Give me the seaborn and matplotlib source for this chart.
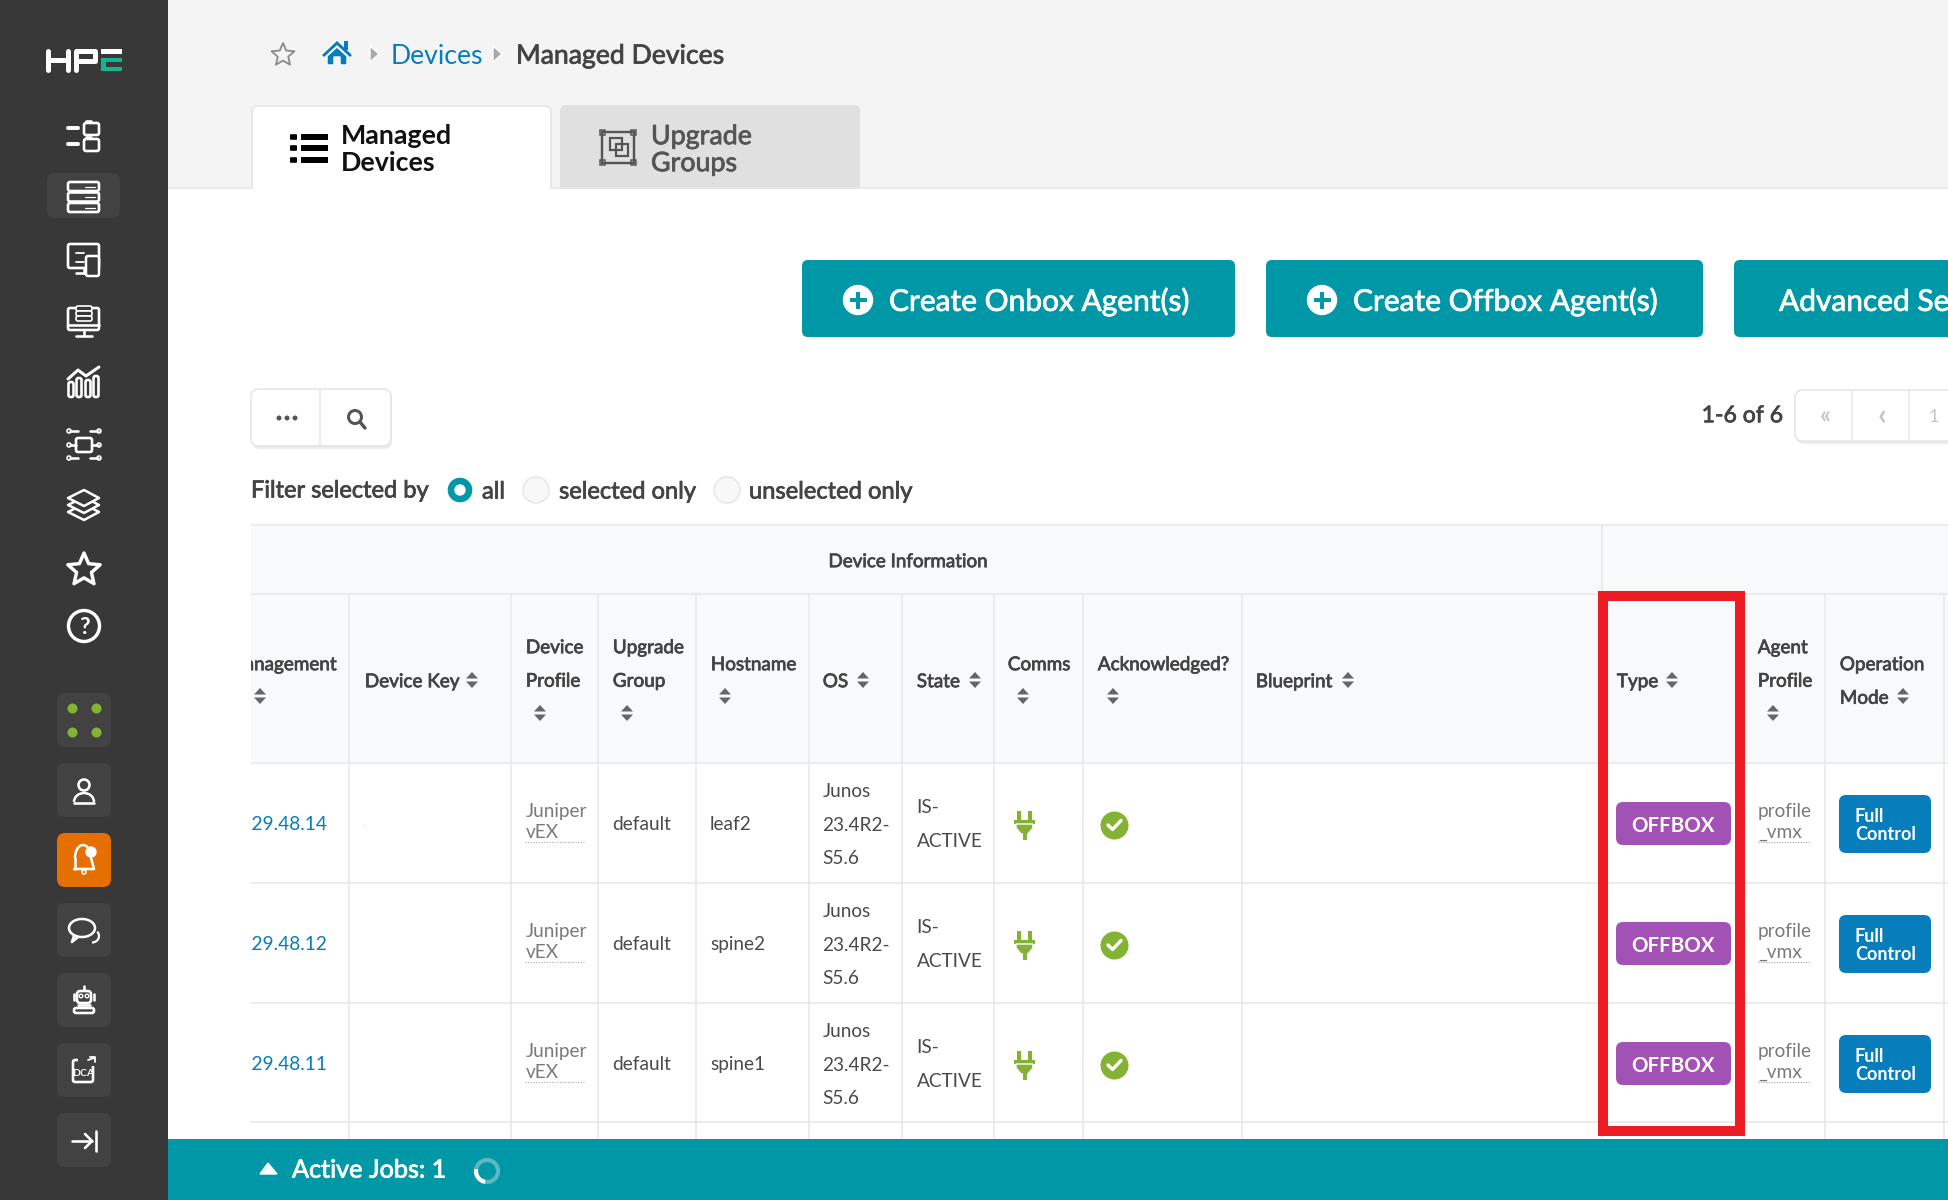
import numpy as np
import pandas as pd
import matplotlib
matplotlib.use("Agg")
import matplotlib.pyplot as plt
import matplotlib.patheffects as pe
import seaborn as sns
from matplotlib.patches import FancyBboxPatch, Rectangle, Polygon, Circle, Arc

# table content
HEADERS = [
    (["Device", "Profile"], 525, 646, (540, 713)),
    (["Upgrade", "Group"], 612, 646, (627, 713)),
    (["Device Key"], 364, 680, (472, 680)),
    (["Hostname"], 710, 663, (725, 696)),
    (["OS"], 822, 680, (863, 680)),
    (["State"], 916, 680, (975, 680)),
    (["Comms"], 1007, 663, (1023, 696)),
    (["Acknowledged?"], 1097, 663, (1113, 696)),
    (["Blueprint"], 1255, 680, (1348, 680)),
    (["Type"], 1616, 680, (1672, 680)),
    (["Agent", "Profile"], 1757, 646, (1773, 713)),
    (["Operation", "Mode"], 1839, 663, (1903, 696)),
]
IPS = [".29.48.14", ".29.48.12", ".29.48.11"]
HOSTNAMES = ["leaf2", "spine2", "spine1"]
PROFILE = ["Juniper", "vEX"]
GROUP = "default"
OS_NAME = ["Junos", "23.4R2-", "S5.6"]
STATE = ["IS-", "ACTIVE"]
AGENT_TYPE = "OFFBOX"
AGENT_PROFILE = ["profile", "_vmx"]
MODE = ["Full", "Control"]
ROW_TOPS = [763, 883, 1003, 1122]
COL_LINES = [349, 511, 598, 696, 809, 902, 994, 1083, 1242, 1602, 1744, 1825, 1944]
SIDE_BOXES = [693, 763, 833, 903, 973, 1043, 1113]

TEAL = "#0097a7"
BLUE = "#077dbb"
GREEN = "#83b235"
DARK = "#444444"
BODY = "#4a4a4a"
GREY = "#7a7a7a"
LINE = "#e7e8ea"

sns.set_theme(style="white")
plt.rcParams["font.family"] = ["Lato", "DejaVu Sans"]

fig = plt.figure(figsize=(19.48, 12), dpi=100)
ax = fig.add_axes([0, 0, 1, 1])
ax.set_xlim(0, 1948)
ax.set_ylim(1200, 0)
ax.axis("off")


def t(x, y, s, px=18.5, color=BODY, weight="normal", ha="left", clip=None, z=5):
    # no semibold cut of Lato here, so thicken the regular one
    real_weight = "normal" if weight == "semibold" else weight
    txt = ax.text(x, y + 0.38 * px, s, fontsize=px * 0.72, color=color, weight=real_weight,
                  ha=ha, va="baseline", zorder=z)
    if weight == "semibold":
        txt.set_path_effects([pe.withStroke(linewidth=0.55, foreground=color)])
    if clip is not None:
        txt.set_clip_on(True)
        txt.set_clip_path(clip)
    return txt


def box(x0, y0, x1, y1, fc, r=0, ec="none", lw=0, z=2):
    if r:
        p = FancyBboxPatch((x0, y0), x1 - x0, y1 - y0, boxstyle=f"round,pad=0,rounding_size={r}",
                           fc=fc, ec=ec, lw=lw, zorder=z)
    else:
        p = Rectangle((x0, y0), x1 - x0, y1 - y0, fc=fc, ec=ec, lw=lw, zorder=z)
    ax.add_patch(p)
    return p


def line(xs, ys, c="white", w=2.6, z=6, **kw):
    ax.plot(xs, ys, color=c, lw=w * 0.72, zorder=z, solid_capstyle="round", **kw)


def ring(x, y, r, c="white", w=2.6, fc="none", z=6):
    ax.add_patch(Circle((x, y), r, fc=fc, ec=c, lw=w * 0.72, zorder=z))


def outline(x0, y0, x1, y1, r=2, c="white", w=2.6, z=6):
    box(x0, y0, x1, y1, "none", r=r, ec=c, lw=w * 0.72, z=z)


def star(x, y, r, ec, w=2.2, z=6):
    a = np.arange(10) * np.pi / 5 - np.pi / 2
    rr = np.where(np.arange(10) % 2 == 0, r, r * 0.46)
    ax.add_patch(Polygon(np.c_[x + rr * np.cos(a), y + rr * np.sin(a)], fc="none", ec=ec,
                         lw=w * 0.72, zorder=z, joinstyle="round"))


def sort_arrows(x, y):
    for sgn in (-1, 1):
        ax.add_patch(Polygon([(x - 6, y + sgn * 1.5), (x + 6, y + sgn * 1.5), (x, y + sgn * 8)],
                             fc="#666666", ec="none", zorder=5))


# page backgrounds
box(0, 0, 1948, 1200, "white", z=0)
box(168, 0, 1948, 188, "#f4f4f4", z=1)
box(0, 0, 168, 1200, "#383838", z=3)

# sidebar logo
line([48, 48], [51, 70], w=5)
line([68, 68], [51, 70], w=5)
line([48, 68], [60, 60], w=5)
line([76, 76, 95, 95, 76], [70, 51, 51, 61, 61], w=5)
box(101, 49, 122, 53.5, "white", z=6)
box(101, 57.5, 122, 62, "#16b48d", z=6)
box(101, 66.5, 122, 71, "#16b48d", z=6)
box(101, 57.5, 106, 71, "#16b48d", z=6)

# sidebar icons
box(47, 173, 120, 218, "#424242", r=8, z=4)
for y0 in (123, 139):
    outline(84, y0, 99, y0 + 12, 2)
    line([86, 91], [y0 - 2, y0 - 2])
    line([68, 78], [y0 + 5, y0 + 5], w=4)
for y0 in (182, 192.5, 203):
    outline(68, y0, 99, y0 + 9, 2)
    line([85, 95], [y0 + 4.5, y0 + 4.5], w=1.2)
outline(68, 244, 99, 268, 2)
line([84, 84], [268, 273])
line([76, 88], [273, 273])
line([76, 84], [253, 253], w=1.8)
line([76, 84], [262, 262], w=1.8)
box(86, 256, 99, 276, "#383838", r=2, ec="white", lw=1.8, z=7)
outline(68, 308, 99, 330, 2)
line([68, 99], [325, 325])
line([84, 84], [330, 335])
line([76, 92], [336, 336])
for y0 in (306, 311, 316):
    box(76, y0, 92, y0 + 5, "#383838", r=2, ec="white", lw=1.2, z=7)
for xc, top in zip((71, 79, 88, 96), (382, 378, 380, 376)):
    outline(xc - 2.5, top, xc + 2.5, 397, 2)
line([68, 78, 86, 99], [379, 370, 376, 367], w=3)
outline(76, 438, 92, 452, 2)
for y_, xs_ in ((431, (70, 78)), (445, (70, 76)), (458, (70, 78)), (431, (90, 98)), (445, (92, 98)), (458, (90, 98))):
    line(list(xs_), [y_, y_])
for x_, y_ in ((69, 431), (69, 445), (69, 458), (99, 431), (99, 445), (99, 458)):
    ring(x_, y_, 2, w=1.6)
for yc in (498, 505, 512):
    ax.add_patch(Polygon([(68, yc), (84, yc - 8), (99, yc), (84, yc + 8)], fc="#383838",
                         ec="white", lw=1.8, zorder=6 + (520 - yc) / 100, joinstyle="round"))
star(84, 570, 17, "white", w=3.4)
ring(84, 626, 15.5, w=3.4)
t(84, 625, "?", 23, "white", "bold", ha="center", z=7)

for y0 in SIDE_BOXES:
    box(57, y0, 111, y0 + 54, "#e56f00" if y0 == 833 else "#424242", r=8, z=4)
side_dots = pd.DataFrame({"x": [72, 96, 72, 96], "y": [708, 708, 732, 732]})
sns.scatterplot(data=side_dots, x="x", y="y", s=52, color=GREEN, linewidth=0, ax=ax, zorder=6)
ring(84, 785, 5.5)
ax.add_patch(Arc((84, 802), 20, 18, theta1=180, theta2=360, color="white", lw=1.8, zorder=6))
line([74, 94], [803, 803])
ax.add_patch(Arc((83, 858), 16, 26, theta1=180, theta2=330, color="white", lw=1.8, zorder=6))
line([74, 94, 91], [869, 869, 858])
line([75, 75], [858, 869])
ring(84, 872, 2, w=1.6)
ax.add_patch(Circle((91, 852), 5, fc="white", zorder=7))
ax.add_patch(Arc((82, 928), 26, 18, color="white", lw=1.8, zorder=6))
line([74, 72, 78], [936, 942, 937])
ax.add_patch(Arc((92, 936), 14, 13, theta1=320, theta2=90, color="white", lw=1.6, zorder=6))
outline(77, 991, 91, 1003, 3)
ring(81, 996, 1.8, w=1.4)
ring(87, 996, 1.8, w=1.4)
line([84, 84], [986, 990])
line([74, 74], [994, 1000])
line([94, 94], [994, 1000])
outline(74, 1008, 94, 1013, 2)
line([78, 90], [1005, 1005])
outline(73, 1060, 93, 1082, 2)
box(78, 1058, 98, 1066, "#424242", z=7)
t(83, 1072, "DCA", 10.5, "white", "bold", ha="center", z=8)
line([88, 94], [1060, 1058], w=1.8, z=8)
line([90, 95, 95], [1057, 1057, 1062], w=1.8, z=8)
line([72, 92], [1141, 1141])
line([85, 92, 85], [1134, 1141, 1148])
line([96, 96], [1131, 1151])

# breadcrumb
star(283, 55, 12, "#8a8a8a", w=1.8)
ax.add_patch(Polygon([(321, 55), (337, 40), (353, 55), (350, 58), (337, 46), (324, 58)], fc=BLUE, zorder=5))
ax.add_patch(Polygon([(327, 56), (337, 47), (347, 56), (347, 65), (340, 65), (340, 57), (334, 57), (334, 65), (327, 65)], fc=BLUE, zorder=5))
box(344, 41, 348, 50, BLUE, z=5)
for xa in (370, 493):
    ax.add_patch(Polygon([(xa, 46), (xa + 9, 54), (xa, 62)], fc="#a8a8a8", zorder=5))
t(391, 53.5, "Devices", 26.6, BLUE)
t(516, 53.5, "Managed Devices", 26.6, DARK, "semibold")

# tabs
box(560, 105, 860, 195, "#e0e0e0", r=6, z=1.2)
box(252, 106, 551, 200, "white", r=6, ec="#e2e2e2", lw=1, z=1.2)
box(168, 189, 1948, 1200, "white", z=1.3)
line([168, 1948], [188, 188], LINE, 1.5, z=1.5)
box(253, 180, 550, 192, "white", z=1.6)
for y_ in (137, 148, 160):
    box(290, y_ - 2.8, 297, y_ + 2.8, "black", r=1, z=5)
    box(301, y_ - 2.8, 328, y_ + 2.8, "black", z=5)
t(341, 134, "Managed", 26.8, "#111111", "bold")
t(341, 161, "Devices", 26.8, "#111111", "bold")
outline(602, 132, 634, 163, 0, "#555555", 2.4, z=5)
outline(610, 138, 622, 150, 0, "#555555", 2.2, z=5)
outline(616, 144, 628, 156, 0, "#555555", 2.2, z=5)
outline(600, 130, 605, 135, 0, "#555555", 1.5, z=5)
outline(631, 130, 636, 135, 0, "#555555", 1.5, z=5)
outline(600, 160, 605, 165, 0, "#555555", 1.5, z=5)
outline(631, 160, 636, 165, 0, "#555555", 1.5, z=5)
t(651, 134, "Upgrade", 26.8, "#555555", "semibold")
t(651, 161, "Groups", 26.8, "#555555", "semibold")

# action buttons
for x0, x1 in ((802, 1235), (1266, 1703), (1734, 1960)):
    box(x0, 260, x1, 337, TEAL, r=6, z=3)
for xc in (858, 1322):
    ax.add_patch(Circle((xc, 300), 14.5, fc="white", zorder=5))
    box(xc - 8.5, 298, xc + 8.5, 302, TEAL, z=6)
    box(xc - 2, 291.5, xc + 2, 308.5, TEAL, z=6)
t(889, 299.5, "Create Onbox Agent(s)", 29.9, "white", "semibold")
t(1353, 299.5, "Create Offbox Agent(s)", 29.9, "white", "semibold")
t(1779, 299.5, "Advanced Search", 29.9, "white", "semibold")

# search pill and pager
box(252, 390, 392, 449, "#00000012", r=8, z=1.5)
box(251, 389, 391, 446, "white", r=8, ec="#e2e2e2", lw=1, z=2)
line([320, 320], [390, 445], LINE, 1.5, z=3)
for xd in (279, 287, 295):
    ax.add_patch(Circle((xd, 418), 3.2, fc="#555555", zorder=5))
ring(355, 417, 6.5, "#555555", 3)
line([360, 365], [422, 428], "#555555", 3.4)
t(1783, 413.5, "1-6 of 6", 23, DARK, "semibold", ha="right")
box(1796, 391, 1960, 444, "#00000012", r=8, z=1.5)
box(1795, 390, 1960, 441, "white", r=8, ec="#e2e2e2", lw=1, z=2)
for xd in (1852, 1909):
    line([xd, xd], [391, 440], LINE, 1.5, z=3)
t(1825, 414, "«", 24, "#c4c4c4", "bold", ha="center")
t(1882, 414, "‹", 30, "#c4c4c4", "bold", ha="center")
t(1934, 415, "1", 18, "#c4c4c4", ha="center")

# filter row
t(251, 488.5, "Filter selected by", 23.6, DARK, "semibold")
ax.add_patch(Circle((460, 490), 13, fc=TEAL, zorder=5))
ax.add_patch(Circle((460, 490), 5, fc="white", zorder=6))
t(482, 489.5, "all", 23.7, DARK, "semibold")
for xc, xt, label in ((536, 559, "selected only"), (727, 749, "unselected only")):
    ax.add_patch(Circle((xc, 490), 13, fc="#f8f8f8", ec="#e8e8e8", lw=1.2, zorder=5))
    t(xt, 489.5, label, 23.7, DARK, "semibold")

# table frame
box(251, 525, 1948, 763, "#f8f9fb", z=1.4)
for y_ in [525, 594] + ROW_TOPS:
    line([251, 1948], [y_, y_], LINE, 1.6, z=2)
for x_ in COL_LINES:
    line([x_, x_], [594, 1139], LINE, 1.6, z=2)
line([1602, 1602], [525, 594], LINE, 1.6, z=2)
t(908, 560, "Device Information", 18.8, DARK, "semibold", ha="center")

clip = Rectangle((251, 0), 1700, 1200, transform=ax.transData)
for lines_, x_, y_, arrow in HEADERS:
    for i, s in enumerate(lines_):
        t(x_ + 0.8, y_ + i * 33.5, s, 18.9, DARK, "semibold")
    sort_arrows(*arrow)
t(337, 663, "Management", 18.9, DARK, "semibold", ha="right", clip=clip)
sort_arrows(260, 696)

# table rows
for i in range(3):
    c = ROW_TOPS[i] + 60
    t(328, c, IPS[i], 19.1, BLUE, ha="right", clip=clip)
    for j, s in enumerate(PROFILE):
        t(525.5, c - 13 + j * 21, s, 19, GREY)
    line([525, 584], [c + 19, c + 19], "#9a9a9a", 1, z=4, linestyle=":")
    t(612, c, GROUP, 19, BODY)
    t(710, c, HOSTNAMES[i], 19, BODY)
    for j, s in enumerate(OS_NAME):
        t(822.5, c - 33 + j * 33.5, s, 19, BODY)
    for j, s in enumerate(STATE):
        t(916.5, c - 17 + j * 34, s, 19, BODY)
    # plug icon
    box(1017, c - 12, 1021, c - 3, GREEN, z=5)
    box(1028, c - 12, 1032, c - 3, GREEN, z=5)
    box(1014, c - 3, 1035, c + 1, GREEN, z=5)
    ax.add_patch(Polygon([(1016, c + 1), (1033, c + 1), (1033, c + 5), (1028, c + 11), (1021, c + 11), (1016, c + 5)], fc=GREEN, zorder=5))
    box(1022.5, c + 10, 1026.5, c + 17, GREEN, z=5)
    # acknowledged check
    line([1108, 1112.5, 1121], [c + 2, c + 6.5, c - 2.5], "white", 3.4, z=7)
    # type badge
    box(1616, c - 21, 1731, c + 22, "#a251b5", r=7, z=5)
    t(1673, c + 1, AGENT_TYPE, 20.5, "white", "bold", ha="center", z=6)
    for j, s in enumerate(AGENT_PROFILE):
        t(1758, c - 13 + j * 21, s, 19, GREY)
    line([1758, 1811], [c + 19, c + 19], "#9a9a9a", 1, z=4, linestyle=":")
    # mode button
    box(1839, c - 28, 1931, c + 30, BLUE, r=7, z=5)
    t(1855, c - 8, MODE[0], 18, "white", "bold", z=6)
    t(1855, c + 10, MODE[1], 18, "white", "bold", z=6)

checks = pd.DataFrame({"x": [1114] * 3, "y": [t_ + 62 for t_ in ROW_TOPS[:3]]})
sns.scatterplot(data=checks, x="x", y="y", s=406, color=GREEN, linewidth=0, ax=ax, zorder=6)
ax.text(364, 826, ".", fontsize=6, color="#aaaaaa", zorder=5)

# highlight frame
ax.add_patch(Rectangle((1603, 596), 137, 535, fc="none", ec="#ed1c24", lw=10 * 0.72, zorder=8, joinstyle="miter"))

# jobs bar
box(168, 1139, 1948, 1200, TEAL, z=9)
ax.add_patch(Polygon([(260, 1174), (268, 1163), (277, 1174)], fc="white", zorder=10))
t(292, 1168, "Active Jobs: 1", 25.2, "white", "semibold", z=10)
ax.add_patch(Circle((487, 1171), 11, fc="none", ec="#5cb8c4", lw=3, zorder=10))
ax.add_patch(Arc((487, 1171), 22, 22, theta1=100, theta2=190, color="white", lw=3, zorder=11))

ax.set_xlabel("")
ax.set_ylabel("")
ax.set_xlim(0, 1948)
ax.set_ylim(1200, 0)
fig.savefig("out.png", dpi=100)
